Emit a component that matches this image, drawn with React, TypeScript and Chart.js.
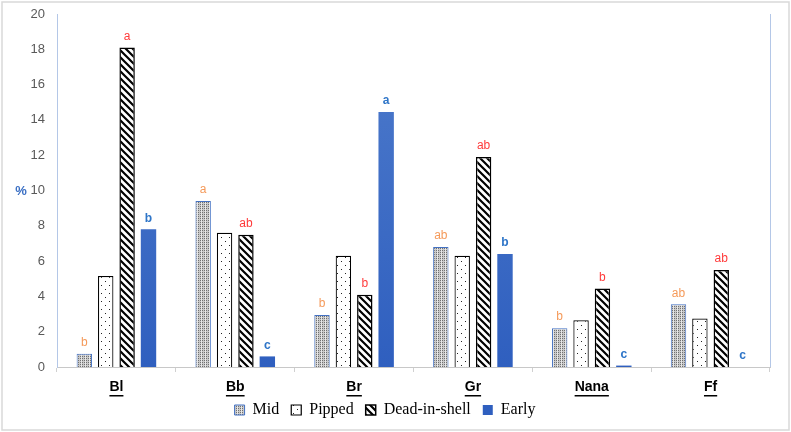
import React, { useEffect, useRef } from "react";
import { Chart, registerables } from "chart.js";

Chart.register(...registerables);

const categories = ["Bl", "Bb", "Br", "Gr", "Nana", "Ff"];
const seriesNames = ["Mid", "Pipped", "Dead-in-shell", "Early"];
const midValues = [0.75, 9.4, 2.95, 6.8, 2.2, 3.55];
const pippedValues = [5.15, 7.6, 6.3, 6.3, 2.65, 2.75];
const deadValues = [18.1, 7.5, 4.1, 11.9, 4.45, 5.5];
const earlyValues = [7.8, 0.6, 14.45, 6.4, 0.08, 0];
const midLetters = ["b", "a", "b", "ab", "b", "ab"];
const pippedLetters = ["", "", "", "", "", ""];
const deadLetters = ["a", "ab", "b", "ab", "b", "ab"];
const earlyLetters = ["b", "c", "a", "b", "c", "c"];
const yTicks = [0, 2, 4, 6, 8, 10, 12, 14, 16, 18, 20];

function makePattern(kind: string): CanvasPattern | string {
  const c = document.createElement("canvas");
  const ctx = c.getContext("2d")!;
  if (kind === "mid") {
    c.width = 4; c.height = 4;
    ctx.fillStyle = "#c8c8c8";
    ctx.fillRect(0, 0, 4, 4);
    ctx.fillStyle = "#707070";
    ctx.fillRect(0, 0, 1, 1);
    ctx.fillRect(2, 2, 1, 1);
    ctx.fillRect(2, 0, 1, 1);
    ctx.fillRect(0, 2, 1, 1);
    ctx.fillStyle = "#e6e6e6";
    ctx.fillRect(1, 0, 1, 4);
  } else if (kind === "pipped") {
    c.width = 8; c.height = 8;
    ctx.fillStyle = "#ffffff";
    ctx.fillRect(0, 0, 8, 8);
    ctx.fillStyle = "#222222";
    ctx.fillRect(1, 1, 1, 1);
    ctx.fillRect(5, 5, 1, 1);
  } else {
    c.width = 7; c.height = 7;
    ctx.fillStyle = "#ffffff";
    ctx.fillRect(0, 0, 7, 7);
    ctx.strokeStyle = "#000000";
    ctx.lineWidth = 2.2;
    ctx.beginPath();
    ctx.moveTo(-1, -1); ctx.lineTo(8, 8);
    ctx.moveTo(-8, -1); ctx.lineTo(1, 8);
    ctx.moveTo(6, -1); ctx.lineTo(15, 8);
    ctx.stroke();
  }
  const p = ctx.createPattern(c, "repeat");
  return p || "#ccc";
}

const letterPlugin = {
  id: "letters",
  afterDatasetsDraw(chart: any) {
    const ctx = chart.ctx;
    const lettersAll = [midLetters, pippedLetters, deadLetters, earlyLetters];
    const colors = ["#f59a5a", "", "#ff3b3b", "#2e75c8"];
    const fonts = [
      "12px 'Liberation Sans', Arial, sans-serif",
      "",
      "12px 'Liberation Sans', Arial, sans-serif",
      "bold 12px 'Liberation Sans', Arial, sans-serif",
    ];
    ctx.save();
    ctx.textAlign = "center";
    ctx.textBaseline = "bottom";
    lettersAll.forEach((letters, di) => {
      const meta = chart.getDatasetMeta(di);
      letters.forEach((t, j) => {
        if (!t) return;
        const el = meta.data[j];
        ctx.fillStyle = colors[di];
        ctx.font = fonts[di];
        ctx.fillText(t, el.x, el.y - 5);
      });
    });
    ctx.restore();
  },
  afterDraw(chart: any) {
    const ctx = chart.ctx;
    const xs = chart.scales.x;
    const area = chart.chartArea;
    ctx.save();
    ctx.strokeStyle = "#b4c7e7";
    ctx.lineWidth = 1;
    ctx.beginPath();
    ctx.moveTo(area.right + 0.5, area.top);
    ctx.lineTo(area.right + 0.5, area.bottom);
    ctx.stroke();
    ctx.fillStyle = "#3a6fc4";
    ctx.font = "bold 13px 'Liberation Sans', Arial, sans-serif";
    ctx.textAlign = "center";
    ctx.textBaseline = "middle";
    ctx.fillText("%", 21, 191);
    ctx.fillStyle = "#000000";
    ctx.font = "bold 14px 'Liberation Sans', Arial, sans-serif";
    ctx.textBaseline = "middle";
    categories.forEach((c, i) => {
      const x = xs.getPixelForValue(i);
      const y = area.bottom + 20;
      ctx.fillText(c, x, y);
      const w = ctx.measureText(c).width;
      ctx.fillRect(x - w / 2, y + 8, w, 1.5);
    });
    ctx.strokeStyle = "#d9d9d9";
    ctx.lineWidth = 1.5;
    ctx.strokeRect(2, 2, chart.width - 4, chart.height - 4);
    ctx.restore();
  },
};

export default function App() {
  const ref = useRef<HTMLCanvasElement>(null);
  useEffect(() => {
    document.body.style.margin = "0";
    const canvas = ref.current!;
    const earlyBg = (ctx: any) => {
      const chart = ctx.chart;
      const area = chart.chartArea;
      if (!area) return "#4472c4";
      const g = chart.ctx.createLinearGradient(0, area.top, 0, area.bottom);
      g.addColorStop(0, "#4f7ccc");
      g.addColorStop(1, "#2f5fbf");
      return g;
    };
    const chart = new Chart(canvas, {
      type: "bar",
      data: {
        labels: categories,
        datasets: [
          { label: seriesNames[0], data: midValues, backgroundColor: makePattern("mid"), borderColor: "#4472c4", borderWidth: 1 },
          { label: seriesNames[1], data: pippedValues, backgroundColor: makePattern("pipped"), borderColor: "#000000", borderWidth: 1.2 },
          { label: seriesNames[2], data: deadValues, backgroundColor: makePattern("dead"), borderColor: "#000000", borderWidth: 1.5 },
          { label: seriesNames[3], data: earlyValues, backgroundColor: earlyBg, borderColor: "#3a66c0", borderWidth: 0 },
        ],
      },
      options: {
        responsive: false,
        animation: false,
        layout: { padding: { left: 0, right: 21, top: 14, bottom: 4 } },
        datasets: { bar: { categoryPercentage: 0.72, barPercentage: 0.72 } },
        scales: {
          x: {
            grid: { display: true, drawOnChartArea: false, drawTicks: true, tickLength: 5, color: "#d0d0d0", offset: true },
            border: { display: true, color: "#c8c8c8" },
            ticks: { display: false },
            afterFit: (s: any) => { s.height = 23; },
          },
          y: {
            min: 0,
            max: 20,
            afterBuildTicks: (s: any) => { s.ticks = yTicks.map((v) => ({ value: v })); },
            grid: { display: false },
            border: { display: true, color: "#b4c7e7" },
            ticks: { color: "#595959", padding: 4, font: { family: "'Liberation Sans', Arial, sans-serif", size: 13 } },
            afterFit: (s: any) => { s.width = 57; },
          },
        },
        plugins: {
          legend: {
            position: "bottom",
            labels: {
              boxWidth: 10,
              boxHeight: 10,
              padding: 12,
              color: "#000",
              font: { family: "'Liberation Serif', 'Times New Roman', serif", size: 16 },
            },
          },
          tooltip: { enabled: false },
        },
      },
      plugins: [letterPlugin],
    });
    return () => chart.destroy();
  }, []);
  return <canvas ref={ref} width={791} height={432} style={{ display: "block" }} />;
}
